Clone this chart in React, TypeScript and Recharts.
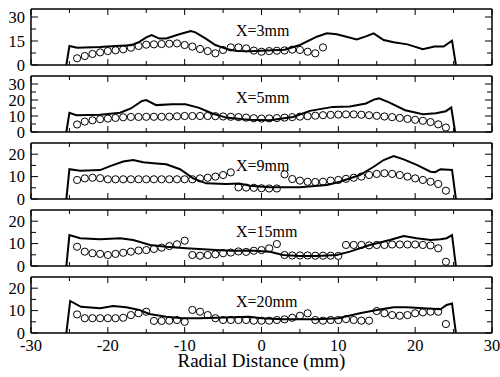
import { ComposedChart, Line, Scatter, XAxis, YAxis } from 'recharts';

const FONT = '"Liberation Serif", "Times New Roman", serif';

// x axis
const xTicks = [-30, -25, -20, -15, -10, -5, 0, 5, 10, 15, 20, 25, 30];
const xLabels = [-30, -20, -10, 0, 10, 20, 30];

// measurement positions (circles)
const probeX = [
    -24, -23, -22, -21, -20, -19, -18, -17, -16, -15, -14, -13, -12, -11, -10, -9, -8, -7, -6, -5, -4, -3, -2, -1,
    0, 1, 2, 3, 4, 5, 6, 7, 8, 9, 10, 11, 12, 13, 14, 15, 16, 17, 18, 19, 20, 21, 22, 23, 24,
];
const probeX3mm = [
    -24, -23, -22, -21, -20, -19, -18, -17, -16, -15, -14, -13, -12, -11, -10, -9, -8, -7, -6, -5, -4, -3, -2, -1,
    0, 1, 2, 3, 4, 5, 6, 7, 8,
];

// measured values
const meas3mm = [
    4.2, 5.6, 6.9, 7.9, 8.7, 9.2, 9.8, 10.8, 11.9, 12.7, 12.9, 13.1, 13.3, 13.5, 12.5, 11.5, 10, 8.7, 7.3, 9.4, 11,
    11, 10.4, 9, 8.3, 8.7, 8.9, 9.1, 9.6, 9.4, 8.3, 7.3, 11,
];
const meas5mm = [
    4.7, 6.5, 7.3, 8, 8.4, 8.8, 9.2, 9.4, 9.4, 9.5, 9.5, 9.5, 9.6, 9.8, 10, 10, 10, 10, 9.9, 9.7, 9.5, 9.3, 9, 8.6,
    8.4, 8.5, 8.7, 9, 9.3, 9.6, 9.9, 10.2, 10.5, 10.7, 10.9, 11, 11, 10.8, 10.5, 10.1, 9.7, 9.3, 8.8, 8.2, 7.6, 7,
    6.2, 4.8, 2.8,
];
const meas9mm = [
    8.5, 9.2, 9.5, 9.3, 8.8, 8.8, 8.8, 8.8, 8.8, 8.8, 8.8, 8.8, 8.8, 8.8, 8.8, 8.8, 9.2, 9.5, 10, 10.7, 11.9, 5.2,
    5.1, 5, 4.8, 4.7, 4.7, 11, 8.9, 8.2, 7.7, 7.6, 7.7, 8.2, 8.5, 9, 9.5, 10, 10.7, 11.2, 11.5, 11.2, 10.7, 10, 9.2,
    8.5, 7.7, 6.7, 3.7,
];
const meas15mm = [
    8.6, 6.4, 5.7, 5.4, 4.9, 5.4, 5.9, 6.4, 6.9, 7.1, 7.6, 8.2, 8.9, 9.7, 11.3, 4.9, 4.6, 4.9, 5.2, 5.7, 6, 6.5, 6.3,
    6.8, 7.1, 7.9, 9.8, 4.9, 4.7, 4.7, 4.7, 4.6, 4.6, 4.6, 4.5, 9.4, 9.4, 9.4, 9.2, 9.4, 9.4, 9.6, 9.6, 9.6, 9.6,
    9.4, 9.2, 7.9, 1.9,
];
const meas20mm = [
    8.3, 6.6, 6.6, 6.6, 6.6, 6.6, 6.8, 8, 8.8, 9.5, 5.4, 5.4, 5.5, 5.8, 5, 10.3, 9.5, 8, 6.6, 5.8, 5.8, 5.8, 5.8,
    5.5, 5.5, 5.5, 5.8, 6.1, 6.8, 7.7, 8.8, 5.8, 5.5, 5.8, 5.8, 6.2, 5.8, 5.5, 5.5, 9.8, 8.8, 8, 7.7, 8, 8.8, 9.2,
    9.5, 9.5, 4,
];

// simulated profiles (solid line)
const simX3mm = [
    -25.4, -25, -24, -21, -19, -17, -16, -15, -14.3, -13.3, -12.4, -10.7, -9.2, -8.6, -7.3, -6, -4.4, -3.2, -1.5,
    0.7, 3, 5, 7.2, 8.5, 9.8, 12.4, 13.5, 14.6, 15.9, 17.2, 19, 21, 22.5, 23.7, 24.8, 25.3,
];
const sim3mm = [
    0, 11.9, 10.8, 11.2, 11.9, 12.3, 14.2, 17.3, 18.7, 16.5, 16.6, 19.2, 21.2, 20.4, 16.6, 12.5, 9.8, 8.8, 8.6, 9,
    9.5, 12.5, 17.7, 19.8, 19.2, 16, 17.7, 19.8, 15.6, 14.2, 12.9, 9.8, 11.5, 11.5, 15.2, 0,
];
const simX5mm = [
    -25.4, -25, -24.1, -21, -18.4, -17, -15.6, -15, -13.7, -11.6, -9.9, -8.1, -6.4, -4.6, -2.4, -1.5, 1.1, 4.1, 6.3,
    9.3, 11.5, 13.6, 14.7, 15.3, 16.6, 18.7, 21, 22.7, 24, 24.7, 25.2,
];
const sim5mm = [
    0, 12, 10.5, 10.8, 12, 14.7, 19.3, 20, 16.8, 17.4, 17.4, 15.1, 11.6, 9, 8, 7.7, 7.3, 9.4, 13.2, 15.7, 16, 17.8,
    20.4, 21, 18.5, 13.6, 11.1, 11.7, 13, 15.3, 0,
];
const simX9mm = [
    -25.4, -25, -23.6, -21, -19.7, -18, -16.7, -15.4, -13.7, -12.4, -10.6, -8.9, -7.2, -4.6, -2.9, -1.5, 1.1, 5,
    8.5, 10.2, 12.8, 14.6, 15.9, 17.2, 18.5, 20.2, 22, 22.6, 23.3, 24.8, 25.3,
];
const sim9mm = [
    0, 13.3, 12.6, 12.9, 14.7, 16.7, 17.4, 16.4, 15.9, 15.5, 13.3, 9.2, 7, 6.7, 6.9, 5.9, 5.2, 5.2, 6.3, 7.7, 10.7,
    14.4, 17.4, 19.2, 17.7, 15.2, 12.2, 12, 13.3, 13, 0,
];
const simX15mm = [
    -25.4, -25, -23.6, -21, -18.4, -16.7, -14.5, -12.4, -9.8, -5.9, -3.8, -1.5, 1.1, 2.8, 5, 7.2, 9.8, 11.5, 14.1,
    16.7, 18.5, 20.2, 22, 23.3, 24.1, 24.8, 25.3,
];
const sim15mm = [
    0, 13.8, 12.4, 11.9, 12.4, 11.6, 9.4, 8.6, 7.9, 7.1, 6.8, 6.9, 6.4, 4.9, 4.5, 4.5, 4.9, 6.4, 9.4, 11.6, 13.4,
    12.4, 11.6, 11.9, 12.4, 13.8, 0,
];
const simX20mm = [
    -25.4, -24.9, -23.5, -21, -19.3, -17.6, -15.9, -14.6, -12.4, -10.3, -8.1, -5.9, -3.8, -1.6, 0, 2.8, 7.2, 10,
    12.8, 15, 17.2, 18.9, 21.1, 23.3, 24.1, 24.8, 25.3,
];
const sim20mm = [
    0, 14.3, 11.7, 11, 12, 11.5, 10.3, 8.5, 7.3, 6.6, 6.6, 6.8, 7, 7.2, 6.6, 6.1, 6.1, 6.6, 8.8, 10.3, 11.5, 11.5,
    11, 10.6, 12.5, 13.2, 0,
];

// y axes
const yTicks3mm = [0, 7.5, 15, 22.5, 30];
const yLabels3mm = [0, 15, 30];
const yTicks5mm = [0, 5, 10, 15, 20, 25, 30];
const yLabels5mm = [0, 10, 20, 30];
const yTicksLow = [0, 5, 10, 15, 20];
const yLabelsLow = [0, 10, 20];

const panelLabels = ['X=3mm', 'X=5mm', 'X=9mm', 'X=15mm', 'X=20mm'];
const xTitle = 'Radial Distance (mm)';

const panels = [
    { label: panelLabels[0], top: 9, labelBase: 36, yMax: 35, yTicks: yTicks3mm, yLabels: yLabels3mm, measX: probeX3mm, meas: meas3mm, simX: simX3mm, sim: sim3mm },
    { label: panelLabels[1], top: 76, labelBase: 103.3, yMax: 35, yTicks: yTicks5mm, yLabels: yLabels5mm, measX: probeX, meas: meas5mm, simX: simX5mm, sim: sim5mm },
    { label: panelLabels[2], top: 143, labelBase: 170.7, yMax: 25, yTicks: yTicksLow, yLabels: yLabelsLow, measX: probeX, meas: meas9mm, simX: simX9mm, sim: sim9mm },
    { label: panelLabels[3], top: 210, labelBase: 237.3, yMax: 25, yTicks: yTicksLow, yLabels: yLabelsLow, measX: probeX, meas: meas15mm, simX: simX15mm, sim: sim15mm },
    { label: panelLabels[4], top: 277, labelBase: 306.7, yMax: 25, yTicks: yTicksLow, yLabels: yLabelsLow, measX: probeX, meas: meas20mm, simX: simX20mm, sim: sim20mm },
];

const PLOT_H = 56;
const frame = { stroke: '#000', strokeWidth: 1.5 };

const toPts = (xs: number[], ys: number[]) => xs.map((x, i) => ({ x, y: ys[i] }));

function XTick(props: any) {
    const { x, y, payload, side, showLabel } = props;
    const v = payload.value;
    const len = v % 10 === 0 ? 6 : 4;
    const dir = side === 'top' ? 1 : -1;
    return (
        <g>
            <line x1={x} x2={x} y1={y} y2={y + dir * len} stroke="#000" strokeWidth={1} />
            {showLabel && xLabels.includes(v) && (
                <text x={x} y={y + 17.5} textAnchor="middle" fontSize={16.5} fontFamily={FONT} fill="#000">
                    {v}
                </text>
            )}
        </g>
    );
}

function YTick(props: any) {
    const { x, y, payload, side, labels } = props;
    const v = payload.value;
    const major = labels.includes(v);
    const len = major ? 7 : 5;
    const dir = side === 'left' ? 1 : -1;
    return (
        <g>
            <line x1={x} x2={x + dir * len} y1={y} y2={y} stroke="#000" strokeWidth={1} />
            {side === 'left' && major && (
                <text x={x - 6} y={y} dy="0.34em" textAnchor="end" fontSize={16.5} fontFamily={FONT} fill="#000">
                    {v}
                </text>
            )}
        </g>
    );
}

function Panel({ p, last }: { p: (typeof panels)[number]; last: boolean }) {
    const mt = 12;
    const mb = last ? 30 : 12;
    const simPts = toPts(p.simX, p.sim);
    const measPts = toPts(p.measX, p.meas);

    return (
        <div style={{ position: 'absolute', left: 0, top: p.top - mt }}>
            <ComposedChart width={500} height={PLOT_H + mt + mb} margin={{ top: mt - 1, right: 7, bottom: mb - 1, left: 30 }}>
                <XAxis
                    xAxisId="b"
                    dataKey="x"
                    type="number"
                    domain={[-30, 30]}
                    ticks={xTicks}
                    interval={0}
                    height={1}
                    tickSize={0}
                    tickMargin={0}
                    tickLine={false}
                    axisLine={frame}
                    allowDataOverflow
                    tick={(t: any) => <XTick {...t} side="bottom" showLabel={last} />}
                />
                <XAxis
                    xAxisId="t"
                    orientation="top"
                    dataKey="x"
                    type="number"
                    domain={[-30, 30]}
                    ticks={xTicks}
                    interval={0}
                    height={1}
                    tickSize={0}
                    tickMargin={0}
                    tickLine={false}
                    axisLine={frame}
                    allowDataOverflow
                    tick={(t: any) => <XTick {...t} side="top" showLabel={false} />}
                />
                <YAxis
                    yAxisId="l"
                    dataKey="y"
                    type="number"
                    domain={[0, p.yMax]}
                    ticks={p.yTicks}
                    interval={0}
                    width={1}
                    tickSize={0}
                    tickMargin={0}
                    tickLine={false}
                    axisLine={frame}
                    allowDataOverflow
                    tick={(t: any) => <YTick {...t} side="left" labels={p.yLabels} />}
                />
                <YAxis
                    yAxisId="r"
                    orientation="right"
                    dataKey="y"
                    type="number"
                    domain={[0, p.yMax]}
                    ticks={p.yTicks}
                    interval={0}
                    width={1}
                    tickSize={0}
                    tickMargin={0}
                    tickLine={false}
                    axisLine={frame}
                    allowDataOverflow
                    tick={(t: any) => <YTick {...t} side="right" labels={p.yLabels} />}
                />
                <Line
                    xAxisId="b"
                    yAxisId="l"
                    data={simPts}
                    dataKey="y"
                    type="linear"
                    stroke="#000"
                    strokeWidth={2}
                    dot={false}
                    activeDot={false}
                    isAnimationActive={false}
                />
                <Scatter
                    xAxisId="b"
                    yAxisId="l"
                    data={measPts}
                    dataKey="y"
                    isAnimationActive={false}
                    shape={(s: any) => <circle cx={s.cx} cy={s.cy} r={3.6} fill="none" stroke="#000" strokeWidth={1} />}
                />
            </ComposedChart>
        </div>
    );
}

export default function App() {
    return (
        <div style={{ position: 'absolute', left: 0, top: 0, width: 500, height: 377, background: '#fff', overflow: 'hidden' }}>
            {panels.map((p, i) => (
                <Panel key={p.label} p={p} last={i === panels.length - 1} />
            ))}
            <svg width={500} height={377} style={{ position: 'absolute', left: 0, top: 0, pointerEvents: 'none' }}>
                {panels.map((p) => (
                    <text key={p.label} x={236} y={p.labelBase} fontSize={16} fontFamily={FONT} fill="#000">
                        {p.label}
                    </text>
                ))}
                <text x={261.4} y={367.3} textAnchor="middle" fontSize={19} fontFamily={FONT} fill="#000">
                    {xTitle}
                </text>
            </svg>
        </div>
    );
}
